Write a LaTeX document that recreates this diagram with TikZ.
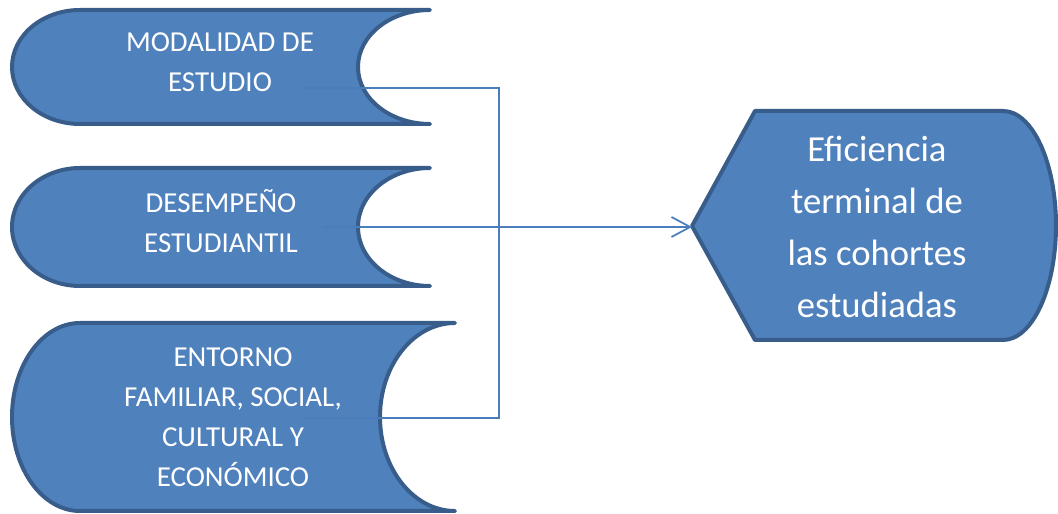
\documentclass[tikz,border=0pt]{standalone}
\usepackage{fontspec}
\setmainfont{Carlito}
\usetikzlibrary{arrows.meta}
\definecolor{fillblue}{HTML}{4F81BD}
\definecolor{edgeblue}{HTML}{385D8A}
\definecolor{linkblue}{HTML}{4A7EBB}
\tikzset{
  shapebox/.style={fill=fillblue, draw=edgeblue, line width=3pt, line join=round, line cap=round},
  boxtext/.style={text=white, align=center, inner sep=0pt, font=\fontsize{21.7pt}{30pt}\selectfont},
  bigtext/.style={text=white, align=center, inner sep=0pt, font=\fontsize{27.5pt}{39pt}\selectfont},
  conn/.style={draw=linkblue, line width=1.3pt},
  arrowconn/.style={conn, -{Straight Barb[length=14pt,width=15pt,line width=1.3pt]}}
}
\begin{document}
\begin{tikzpicture}[x=0.75pt,y=0.75pt]
\useasboundingbox (0,0) rectangle (1058,514);
% box 1
\draw[shapebox] (80,504) -- (430,504) arc[start angle=90,end angle=270,x radius=72,y radius=57]
  -- (80,390) arc[start angle=270,end angle=90,x radius=68,y radius=57] -- cycle;
% box 2
\draw[shapebox] (80,346) -- (430,346) arc[start angle=90,end angle=270,x radius=72,y radius=59]
  -- (80,228) arc[start angle=270,end angle=90,x radius=68,y radius=59] -- cycle;
% box 3
\draw[shapebox] (80,191) -- (455,191) arc[start angle=90,end angle=270,x radius=75,y radius=94]
  -- (80,3) arc[start angle=270,end angle=90,x radius=68,y radius=94] -- cycle;
% display shape
\draw[shapebox] (692,288) -- (755,403) -- (1003,403) arc[start angle=90,end angle=-90,x radius=53,y radius=114.5]
  -- (755,174) -- cycle;
% texts
\node[boxtext] (t1) at (220,452) {MODALIDAD DE\\ESTUDIO};
\node[boxtext] (t2) at (221,293) {DESEMPEÑO\\ESTUDIANTIL};
\node[boxtext] (t3) at (233,97) {ENTORNO\\FAMILIAR, SOCIAL,\\CULTURAL Y\\ECONÓMICO};
\node[bigtext] (t4) at (877,287) {Eficiencia\\terminal de\\las cohortes\\estudiadas};
% connector points
\coordinate (c1) at (300,426);
\coordinate (c2) at (323,287);
\coordinate (c3) at (303,96);
\coordinate (j1) at (499,426);
\coordinate (j3) at (499,96);
\coordinate (tip) at (692,287);
\draw[conn] (c1) -- (j1) -- (j3) -- (c3);
\draw[arrowconn] (c2) -- (tip);
\end{tikzpicture}
\end{document}
